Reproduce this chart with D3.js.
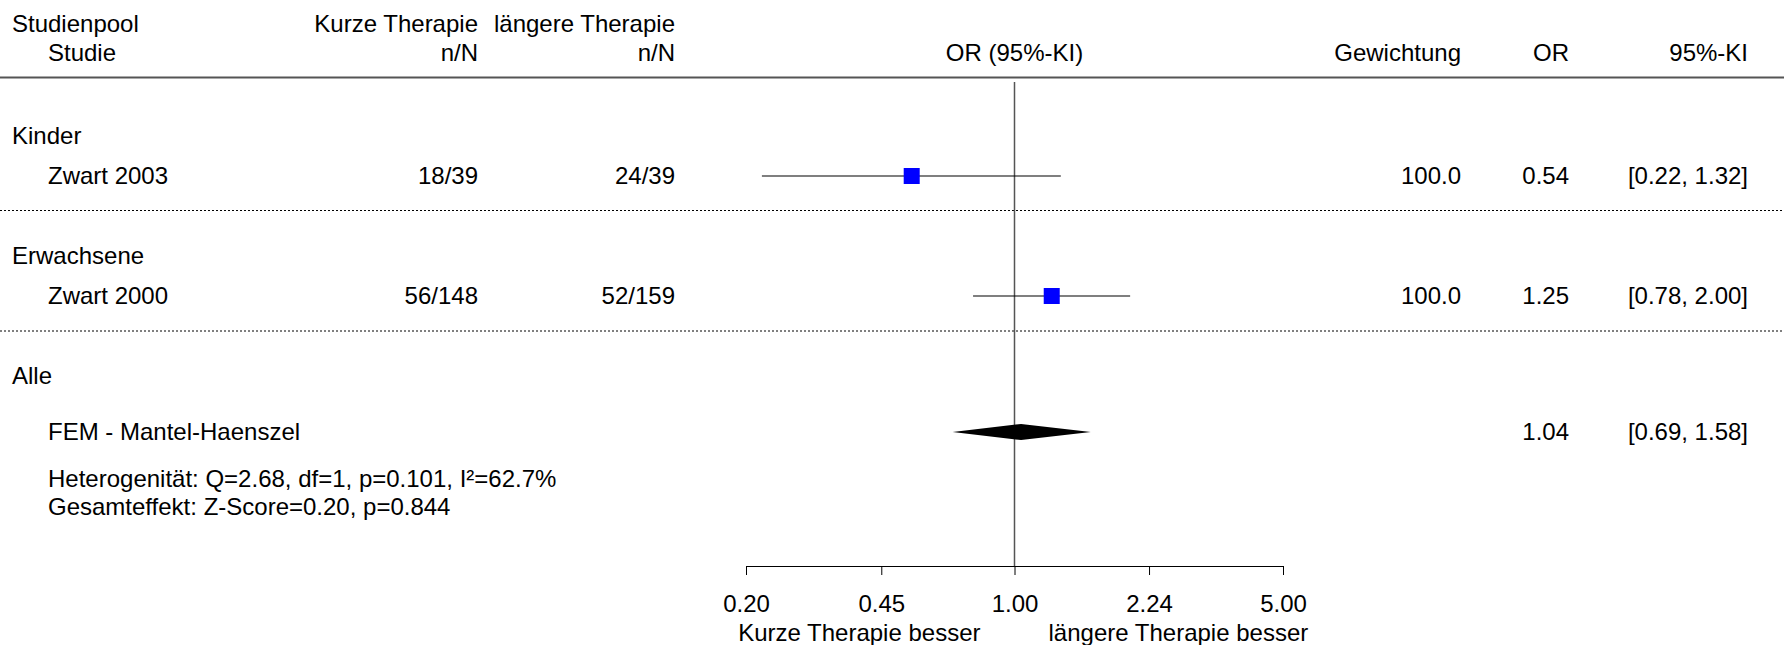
<!DOCTYPE html>
<html>
<head>
<meta charset="utf-8">
<script src="https://cdn.jsdelivr.net/npm/d3@7"></script>
<style>
  body { margin: 0; background: #fff; }
  text { font-family: "Liberation Sans", Arial, sans-serif; font-size: 24px; fill: #000; }
</style>
</head>
<body>
<div id="vis"></div>
<script>
const FRAME_HEIGHT = 645;
const FRAME_WIDTH = 1784;

// data
const GROUPS = ["Kinder", "Erwachsene", "Alle"];
const STUDIES = ["Zwart 2003", "Zwart 2000"];
const SHORT_N = ["18/39", "56/148"];
const LONG_N = ["24/39", "52/159"];
const OR_VALUES = [0.54, 1.25];
const CI_LOW = [0.22, 0.78];
const CI_HIGH = [1.32, 2.00];
const WEIGHTS = [100.0, 100.0];
const POOLED_LABEL = "FEM - Mantel-Haenszel";
const POOLED_OR = 1.04;
const POOLED_CI = [0.69, 1.58];
const TICKS = [0.20, 0.45, 1.00, 2.24, 5.00];
const HETERO_TEXT = "Heterogenität: Q=2.68, df=1, p=0.101, I²=62.7%";
const EFFECT_TEXT = "Gesamteffekt: Z-Score=0.20, p=0.844";

// layout (rows)
const GROUP_Y = [136, 256, 376];
const STUDY_Y = [176, 296];
const DOTTED_Y = [210.5, 331];
const POOLED_Y = 432;
const AXIS_Y = 566;

const COL = {group: 12, study: 48, shortN: 478, longN: 675, weight: 1461, or: 1569, ci: 1748};

const fmt2 = d3.format(".2f");
const fmt1 = d3.format(".1f");

const FRAME = d3.select("#vis")
    .append("svg")
    .attr("height", FRAME_HEIGHT)
    .attr("width", FRAME_WIDTH);

// log scale for the odds ratios
const X_SCALE = d3.scaleLog()
    .domain([0.2, 5])
    .range([746, 1283]);

const SIZE_SCALE = d3.scaleSqrt()
    .domain([0, 100])
    .range([0, 16]);

const text = (x, y, s, anchor) => FRAME.append("text")
    .attr("x", x)
    .attr("y", y)
    .attr("dy", "0.35em")
    .attr("text-anchor", anchor || "start")
    .text(s);

// header
text(COL.group, 24, "Studienpool");
text(COL.study, 53, "Studie");
text(COL.shortN, 24, "Kurze Therapie", "end");
text(COL.shortN, 53, "n/N", "end");
text(COL.longN, 24, "längere Therapie", "end");
text(COL.longN, 53, "n/N", "end");
text(X_SCALE(1), 53, "OR (95%-KI)", "middle");
text(COL.weight, 53, "Gewichtung", "end");
text(COL.or, 53, "OR", "end");
text(COL.ci, 53, "95%-KI", "end");

FRAME.append("line")
    .attr("x1", 0).attr("x2", FRAME_WIDTH)
    .attr("y1", 77.5).attr("y2", 77.5)
    .attr("stroke", "#555")
    .attr("stroke-width", 2);

// dotted separators
FRAME.selectAll(".sep")
    .data(DOTTED_Y)
    .enter()
    .append("line")
    .attr("x1", 0).attr("x2", FRAME_WIDTH)
    .attr("y1", (d) => d).attr("y2", (d) => d)
    .attr("stroke", "#000")
    .attr("stroke-width", 1)
    .attr("stroke-dasharray", "2,2");

// line of no effect
FRAME.append("line")
    .attr("x1", X_SCALE(1)).attr("x2", X_SCALE(1))
    .attr("y1", 82).attr("y2", AXIS_Y)
    .attr("stroke", "#555")
    .attr("stroke-width", 1.5);

// group labels
GROUPS.forEach((g, i) => text(COL.group, GROUP_Y[i], g));

// study rows
STUDIES.forEach((s, i) => {
    const y = STUDY_Y[i];
    text(COL.study, y, s);
    text(COL.shortN, y, SHORT_N[i], "end");
    text(COL.longN, y, LONG_N[i], "end");
    text(COL.weight, y, fmt1(WEIGHTS[i]), "end");
    text(COL.or, y, fmt2(OR_VALUES[i]), "end");
    text(COL.ci, y, "[" + fmt2(CI_LOW[i]) + ", " + fmt2(CI_HIGH[i]) + "]", "end");
});

FRAME.selectAll(".ci")
    .data(STUDIES)
    .enter()
    .append("line")
    .attr("x1", (d, i) => X_SCALE(CI_LOW[i]))
    .attr("x2", (d, i) => X_SCALE(CI_HIGH[i]))
    .attr("y1", (d, i) => STUDY_Y[i])
    .attr("y2", (d, i) => STUDY_Y[i])
    .attr("stroke", "#000")
    .attr("stroke-width", 1.2);

FRAME.selectAll(".point")
    .data(STUDIES)
    .enter()
    .append("rect")
    .attr("x", (d, i) => X_SCALE(OR_VALUES[i]) - SIZE_SCALE(WEIGHTS[i]) / 2)
    .attr("y", (d, i) => STUDY_Y[i] - SIZE_SCALE(WEIGHTS[i]) / 2)
    .attr("width", (d, i) => SIZE_SCALE(WEIGHTS[i]))
    .attr("height", (d, i) => SIZE_SCALE(WEIGHTS[i]))
    .attr("fill", "#0000ff");

// pooled estimate
text(COL.study, POOLED_Y, POOLED_LABEL);
text(COL.or, POOLED_Y, fmt2(POOLED_OR), "end");
text(COL.ci, POOLED_Y, "[" + fmt2(POOLED_CI[0]) + ", " + fmt2(POOLED_CI[1]) + "]", "end");

FRAME.append("path")
    .attr("d", d3.line()([
        [X_SCALE(POOLED_CI[0]), POOLED_Y],
        [X_SCALE(POOLED_OR), POOLED_Y - 8],
        [X_SCALE(POOLED_CI[1]), POOLED_Y],
        [X_SCALE(POOLED_OR), POOLED_Y + 8]
    ]) + "Z")
    .attr("fill", "#000");

text(COL.study, 479, HETERO_TEXT);
text(COL.study, 507, EFFECT_TEXT);

// axis
const AXIS = FRAME.append("g")
    .attr("transform", "translate(0," + AXIS_Y + ")")
    .call(d3.axisBottom(X_SCALE)
        .tickValues(TICKS)
        .tickFormat(fmt2)
        .tickSizeInner(9)
        .tickSizeOuter(0)
        .tickPadding(20));

AXIS.select(".domain").attr("stroke", "#000");
AXIS.selectAll("text")
    .attr("font-size", "24px")
    .attr("font-family", "Liberation Sans, Arial, sans-serif")
    .attr("fill", "#000");

text(X_SCALE(1) - 34, 633, "Kurze Therapie besser", "end");
text(X_SCALE(1) + 34, 633, "längere Therapie besser", "start");
</script>
</body>
</html>
